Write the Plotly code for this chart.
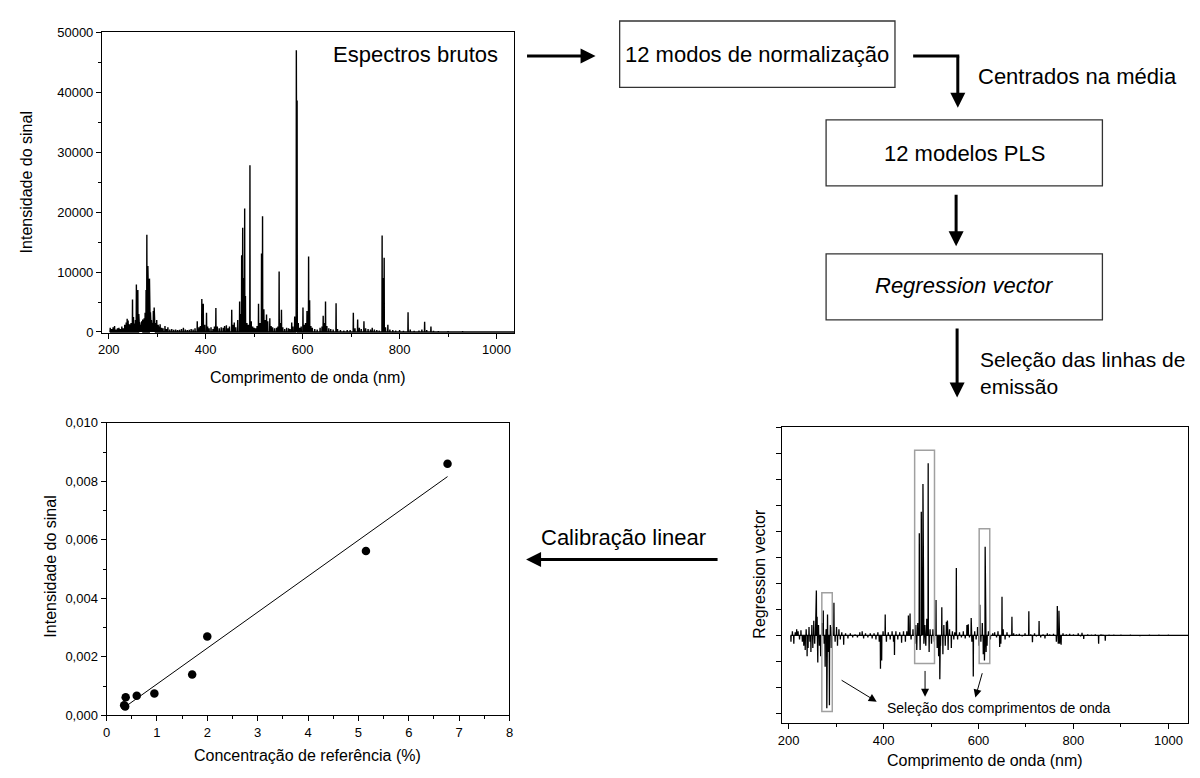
import numpy as np
import plotly.graph_objects as go

W, H = 1200, 778
FONT = "Liberation Sans, Arial, sans-serif"

# ---------------- data ----------------
# Raw LIBS spectrum (wavelength nm, intensity)
RAW_WL = [203, 206, 209, 212, 215, 218, 221, 224, 227, 230, 233, 236, 238, 240, 243, 246, 249, 251, 253, 255,
          257, 259, 260, 262, 264, 266, 268, 270, 273, 275, 277, 278.6, 280.7, 282, 284, 286, 288, 290, 292, 293.7,
          296, 299, 302, 304, 306, 309, 312, 316, 319, 322, 326, 330, 334, 338, 342, 346, 350, 354, 358, 362,
          366, 370, 374, 378, 382.6, 386, 389, 392, 395, 398, 401.7, 404, 407, 411, 415, 418, 421, 424, 428, 432,
          436, 439, 442.7, 446, 449, 453.7, 456, 459, 462, 466, 470, 472, 474.2, 476.3, 478, 480.4, 482, 485, 488, 491.3,
          494, 497, 500, 503, 506, 509, 512, 515.2, 517.3, 520, 523, 525.5, 528, 532.3, 535, 538, 542, 546, 549, 551.5,
          554, 556.3, 559, 563, 567, 571, 574, 577.5, 580, 583.6, 585.5, 587, 588.6, 591, 594, 597, 600.7, 603, 606, 609,
          612.3, 614.4, 617, 620, 625, 630, 636, 640, 642.4, 645, 647.2, 650, 654, 658, 663, 669, 672, 678, 685, 692,
          698, 704.6, 708, 713.5, 717, 721, 726.5, 730, 735, 740, 743.6, 748, 753, 758, 764, 766, 768.2, 771, 775.8, 780,
          786, 792, 800, 808, 817.5, 822, 830, 840, 846, 851.7, 856, 864.7, 870, 880, 900, 930, 960, 1000, 1030, 1045]
RAW_INT = [700, 500, 800, 1000, 400, 600, 700, 500, 900, 600, 1200, 1600, 2200, 1900, 1300, 1500, 5400, 2500, 1400, 2000,
           7900, 6000, 7000, 3000, 1600, 1200, 1800, 2100, 2300, 3200, 7000, 16200, 11000, 5000, 8900, 3300, 2000, 1500, 3500, 4100,
           1500, 2000, 1200, 900, 1300, 700, 600, 1000, 500, 800, 400, 500, 350, 400, 300, 350, 500, 700, 400, 300,
           350, 500, 400, 600, 1800, 800, 1000, 5500, 4700, 1200, 3200, 900, 600, 800, 500, 900, 4000, 900, 600, 800,
           700, 1000, 1100, 600, 900, 3700, 1200, 1600, 800, 2000, 5100, 3000, 12800, 17400, 9000, 20600, 6000, 1500, 1200, 27800,
           1800, 900, 700, 600, 1000, 4700, 1500, 13100, 19300, 3800, 2000, 2900, 1800, 2300, 1000, 800, 600, 700, 900, 10100,
           1500, 3700, 800, 500, 700, 600, 500, 1600, 900, 2600, 2000, 47000, 38600, 1500, 700, 900, 4100, 1200, 1500, 3500,
           12600, 5300, 1000, 700, 500, 400, 700, 900, 2700, 1500, 5100, 1000, 600, 500, 400, 4800, 500, 300, 250, 300,
           300, 3200, 600, 2100, 700, 500, 1800, 600, 500, 400, 700, 400, 300, 250, 16100, 9000, 12400, 800, 1200, 400,
           300, 250, 300, 200, 3300, 400, 200, 250, 400, 1700, 300, 900, 200, 150, 150, 120, 100, 100, 100, 80]

# Regression vector (wavelength nm, relative coefficient)
RV_WL = [205, 208, 211, 214, 217, 220, 223, 226, 229, 232, 235, 237, 239, 241, 243, 245, 247, 249, 251, 253,
         255, 257, 258.5, 260, 261.5, 263, 265, 267.5, 270, 273, 275, 277, 279, 280.5, 282, 284, 286, 288, 290, 292,
         295.5, 298, 301, 303, 306, 309, 312, 316, 320, 325, 330, 335, 340, 345, 350, 355, 358, 362, 367, 372,
         376, 380, 384, 388, 391, 393.5, 396, 399, 403.5, 406, 410, 414, 418, 421, 423, 426, 430, 434, 438, 442,
         446, 449, 452.3, 455.8, 458, 462, 466, 468, 470, 472, 475.3, 477, 479.5, 481, 483, 485, 487, 489, 491, 494,
         496, 498, 501, 504, 507, 510.5, 513, 516, 518.5, 520, 522.7, 525, 527, 530, 532.4, 534.5, 536, 539, 542.8, 545,
         548, 550, 553.3, 556, 560, 564, 568, 572, 575.6, 578.4, 581, 584.6, 586, 589, 592, 595, 598, 601, 602.8, 605,
         608, 610, 612.5, 614, 616, 618, 621, 625, 630, 634, 638, 641, 644.6, 647, 649.5, 652, 656, 660, 665, 670.4,
         674, 680, 686, 692, 698, 706, 710, 713.6, 718, 722, 727.6, 731, 736, 740, 745, 750, 758, 764, 766, 768,
         769.4, 771, 774, 778, 785, 792, 800, 810, 815, 818, 821.6, 830, 838, 846, 853, 858, 862, 867, 875, 885,
         900, 920, 940, 960, 980, 1000, 1020, 1045]
RV_VAL = [-0.03, 0.02, -0.04, 0.015, 0.03, 0.02, -0.02, 0.025, -0.03, -0.05, -0.07, 0.03, -0.10, -0.06, 0.04, -0.03, -0.08, 0.05, -0.06, 0.07,
          -0.04, 0.13, 0.215, 0.09, -0.13, 0.05, -0.05, -0.10, 0.06, 0.12, -0.04, -0.15, 0.03, -0.35, 0.10, -0.08, -0.335, 0.05, -0.06, 0.04,
          0.157, -0.03, 0.04, -0.05, 0.03, -0.02, 0.015, -0.045, 0.01, -0.015, 0.01, -0.01, 0.005, -0.01, 0.015, 0.02, -0.015, 0.01, -0.01, 0.01,
          -0.015, 0.01, -0.02, 0.015, -0.03, -0.16, -0.12, 0.02, 0.10, -0.03, 0.015, -0.02, 0.02, -0.03, -0.094, 0.02, -0.02, 0.015, -0.035, 0.02,
          -0.03, 0.02, 0.096, 0.105, -0.02, 0.03, -0.04, 0.05, -0.07, 0.06, 0.49, -0.07, 0.594, 0.06, 0.727, -0.04, 0.05, -0.05, 0.08, 0.826,
          -0.08, 0.03, -0.04, 0.03, -0.03, 0.17, -0.06, -0.10, -0.21, -0.05, 0.135, -0.09, 0.05, -0.05, 0.065, 0.072, -0.07, 0.03, -0.06, 0.02,
          -0.02, 0.015, 0.323, -0.02, 0.015, -0.01, 0.02, -0.015, 0.05, 0.053, -0.01, 0.083, -0.03, -0.197, 0.02, -0.02, 0.04, -0.05, 0.147, -0.03,
          0.06, -0.09, -0.12, 0.425, -0.08, -0.05, 0.02, -0.02, 0.01, 0.015, -0.01, 0.02, -0.055, -0.04, 0.185, 0.03, -0.02, 0.015, -0.01, 0.089,
          0.01, 0.005, 0.008, -0.005, 0.01, 0.116, 0.005, -0.033, 0.01, -0.005, 0.069, -0.01, 0.005, -0.015, 0.01, 0.005, 0.008, -0.03, 0.141, -0.04,
          0.118, -0.04, -0.045, 0.01, 0.005, 0.008, 0.005, 0.01, -0.005, 0.012, -0.017, 0.005, 0.004, 0.005, -0.04, 0.005, 0.003, -0.025, 0.004, 0.003,
          0.004, 0.003, -0.003, 0.003, 0.004, 0.003, -0.002, 0.002]

# Selected wavelength windows (nm range, coefficient range)
SEL_WL0 = [270, 465.5, 601.4]
SEL_WL1 = [292, 507.3, 623.7]
SEL_V0 = [-0.365, -0.135, -0.135]
SEL_V1 = [0.205, 0.889, 0.512]

# Linear calibration
CONC = [0.35, 0.37, 0.38, 0.60, 0.95, 1.70, 2.00, 5.15, 6.77]
SIGNAL = [0.00035, 0.00030, 0.00062, 0.00067, 0.00075, 0.00140, 0.00270, 0.00562, 0.00860]

# ---------------- helpers ----------------
def px(x):
    return x / W

def py(y):
    return 1 - y / H

def sticks(wl, val, half=0.4):
    order = np.argsort(wl)
    xs, ys = [], []
    for i in order:
        xs += [wl[i] - half, wl[i], wl[i] + half]
        ys += [0, val[i], 0]
    return xs, ys

fig = go.Figure()

rx, ry = sticks(RAW_WL, RAW_INT)
fig.add_trace(go.Scatter(x=rx, y=ry, mode="lines", line=dict(color="black", width=1.4),
                         xaxis="x", yaxis="y", showlegend=False, hoverinfo="skip"))

slope, intercept = np.polyfit(CONC, SIGNAL, 1)
fx = [min(CONC), max(CONC)]
fy = [slope * v + intercept for v in fx]
fig.add_trace(go.Scatter(x=fx, y=fy, mode="lines", line=dict(color="black", width=1),
                         xaxis="x2", yaxis="y2", showlegend=False))
fig.add_trace(go.Scatter(x=CONC, y=SIGNAL, mode="markers", marker=dict(color="black", size=8.5),
                         xaxis="x2", yaxis="y2", showlegend=False))

vx, vy = sticks(RV_WL, RV_VAL)
fig.add_trace(go.Scatter(x=vx, y=vy, mode="lines", line=dict(color="black", width=1.3),
                         xaxis="x3", yaxis="y3", showlegend=False, hoverinfo="skip"))

axis_common = dict(showline=True, linecolor="black", linewidth=1, mirror=True, showgrid=False,
                   zeroline=False, ticks="outside", ticklen=5, tickcolor="black",
                   tickfont=dict(family=FONT, size=13, color="black"))

X1R, Y1R = [186, 1037], [-150, 50000]
X2R, Y2R = [0, 8], [0, 0.010]
X3R, Y3R = [187, 1042], [-0.42, 1.0]

fig.update_layout(
    width=W, height=H, autosize=False,
    margin=dict(l=0, r=0, t=0, b=0),
    paper_bgcolor="white", plot_bgcolor="white",
    separators=",.",
    font=dict(family=FONT, color="black"),
    xaxis=dict(domain=[px(97.7), px(513.3)], range=X1R, tick0=200, dtick=200,
               minor=dict(dtick=100, ticklen=3, ticks="outside", tickcolor="black"),
               anchor="y", **axis_common),
    yaxis=dict(domain=[py(332.3), py(25.7)], range=Y1R, dtick=10000, tickformat="d",
               minor=dict(dtick=5000, ticklen=3, ticks="outside", tickcolor="black"),
               anchor="x", **axis_common),
    xaxis2=dict(domain=[px(102.3), px(508.3)], range=X2R, dtick=1,
                minor=dict(dtick=0.5, ticklen=3, ticks="outside", tickcolor="black"),
                anchor="y2", **axis_common),
    yaxis2=dict(domain=[py(722.3), py(424)], range=Y2R, dtick=0.002, tickformat=".3f",
                minor=dict(dtick=0.001, ticklen=3, ticks="outside", tickcolor="black"),
                anchor="x2", **axis_common),
    xaxis3=dict(domain=[px(783.3), px(1192.3)], range=X3R, tick0=200, dtick=200,
                minor=dict(dtick=100, ticklen=3, ticks="outside", tickcolor="black"),
                anchor="y3", **axis_common),
    yaxis3=dict(domain=[py(730), py(428.3)], range=Y3R, tick0=0, dtick=0.125,
                showticklabels=False, anchor="x3", **axis_common),
)

shapes = []
annotations = []

def text(x, y, s, size=22, xanchor="center", yanchor="middle", angle=0, italic=False, align="center"):
    annotations.append(dict(x=px(x), y=py(y), xref="paper", yref="paper", text=s, showarrow=False,
                            xanchor=xanchor, yanchor=yanchor, textangle=angle, align=align,
                            font=dict(family=FONT, size=size, color="black",
                                      style="italic" if italic else "normal")))

def arrow(x0, y0, x1, y1, width=3, size=1.0, head=2):
    annotations.append(dict(x=px(x1), y=py(y1), xref="paper", yref="paper", text="",
                            showarrow=True, ax=x0 - x1, ay=y0 - y1, axref="pixel", ayref="pixel",
                            arrowhead=head, arrowsize=size, arrowwidth=width, arrowcolor="black"))

def box(x0, y0, x1, y1):
    shapes.append(dict(type="rect", xref="paper", yref="paper", x0=px(x0), x1=px(x1),
                       y0=py(y1), y1=py(y0), line=dict(color="#333333", width=1.3),
                       fillcolor="rgba(0,0,0,0)"))

# axis titles
text(305, 377.5, "Comprimento de onda (nm)", size=16)
text(22, 179, "Intensidade do sinal", size=16, angle=-90)
text(305, 763, "Concentração de referência (%)", size=16)
text(46, 571, "Intensidade do sinal", size=16, angle=-90)
text(987.5, 768, "Comprimento de onda (nm)", size=16)
text(760, 577.5, "Regression vector", size=16, angle=-90)

# flowchart
text(413.5, 48, "Espectros brutos")
arrow(525, 50, 595, 50)
box(619.3, 14.3, 896.7, 82)
text(758, 48, "12 modos de normalização")
shapes.append(dict(type="line", xref="paper", yref="paper", x0=px(915), x1=px(961.5),
                   y0=py(50), y1=py(50), line=dict(color="black", width=3)))
arrow(960, 50, 960, 102.7)
text(978, 71, "Centrados na média", xanchor="left")
box(827.3, 115, 1105.7, 182.3)
text(966.5, 149, "12 modelos PLS")
arrow(958.3, 191, 958.3, 244)
box(827.3, 251.7, 1105.7, 319)
text(966.5, 284, "Regression vector", italic=True)
arrow(959.3, 327.7, 959.3, 398.3)
text(980, 373, "Seleção das linhas de<br>emissão", xanchor="left", size=21, align="left")
text(623, 541, "Calibração linear")
arrow(718, 563.3, 525, 563.3)

# selection windows in the regression vector plot
for a, b, c, d in zip(SEL_WL0, SEL_WL1, SEL_V0, SEL_V1):
    shapes.append(dict(type="rect", xref="x3", yref="y3", x0=a, x1=b, y0=c, y1=d,
                       line=dict(color="#a0a0a0", width=1.5), fillcolor="rgba(0,0,0,0)"))
text(1001.3, 714.3, "Seleção dos comprimentos de onda", size=14)
arrow(841.7, 686, 878.3, 708.3, width=1, size=1.6)
arrow(927, 676, 927, 703.3, width=1, size=1.6)
arrow(985, 678.3, 977.7, 704, width=1, size=1.6)

fig.update_layout(shapes=shapes, annotations=annotations)
fig.write_html("out.html", config={"displayModeBar": False},
               post_script="document.body.style.margin='0px';document.body.style.overflow='hidden';")
